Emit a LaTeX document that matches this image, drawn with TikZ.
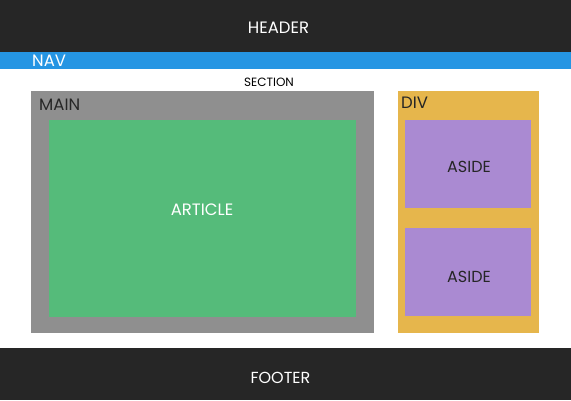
\documentclass[tikz,border=0pt]{standalone}
\usepackage{fontspec}
\setmainfont{Poppins}
\definecolor{barDark}{HTML}{262626}
\definecolor{navBlue}{HTML}{2595E3}
\definecolor{mainGray}{HTML}{8F8F8F}
\definecolor{articleGreen}{HTML}{55BB7A}
\definecolor{divGold}{HTML}{E6B64C}
\definecolor{asidePurple}{HTML}{AA8AD2}
\begin{document}
\begin{tikzpicture}[x=1pt,y=-1pt,
  lbl/.style={inner sep=0pt,font=\fontsize{16.5}{16.5}\selectfont},
  lblmid/.style={inner sep=0pt,font=\fontsize{16}{16}\selectfont},
  lblsmall/.style={inner sep=0pt,font=\fontsize{12}{12}\selectfont}]
  \useasboundingbox (0,0) rectangle (571,400);
  % page bars
  \fill[barDark] (0,0) rectangle (571,52);
  \fill[navBlue] (0,52) rectangle (571,69);
  \fill[barDark] (0,348) rectangle (571,400);
  % content blocks
  \fill[mainGray] (31,91) rectangle (374,333);
  \fill[articleGreen] (49,120) rectangle (356,317);
  \fill[divGold] (398,91) rectangle (539,333);
  \fill[asidePurple] (405,120) rectangle (531,208);
  \fill[asidePurple] (405,228) rectangle (531,316);
  % labels
  \node[lbl,text=white] (header) at (278.5,28) {HEADER};
  \node[lbl,text=white,anchor=west] (nav) at (32,61) {NAV};
  \node[lblsmall,text=black] (section) at (269,82.5) {SECTION};
  \node[lbl,text=black!85,anchor=west] (main) at (39,104.5) {MAIN};
  \node[lbl,text=white] (article) at (202,209.5) {ARTICLE};
  \node[lbl,text=black!85,anchor=west] (div) at (401,103) {DIV};
  \node[lblmid,text=black!85] (aside1) at (469,167) {ASIDE};
  \node[lblmid,text=black!85] (aside2) at (469,277) {ASIDE};
  \node[lblmid,text=white] (footer) at (280.5,378) {FOOTER};
\end{tikzpicture}
\end{document}
